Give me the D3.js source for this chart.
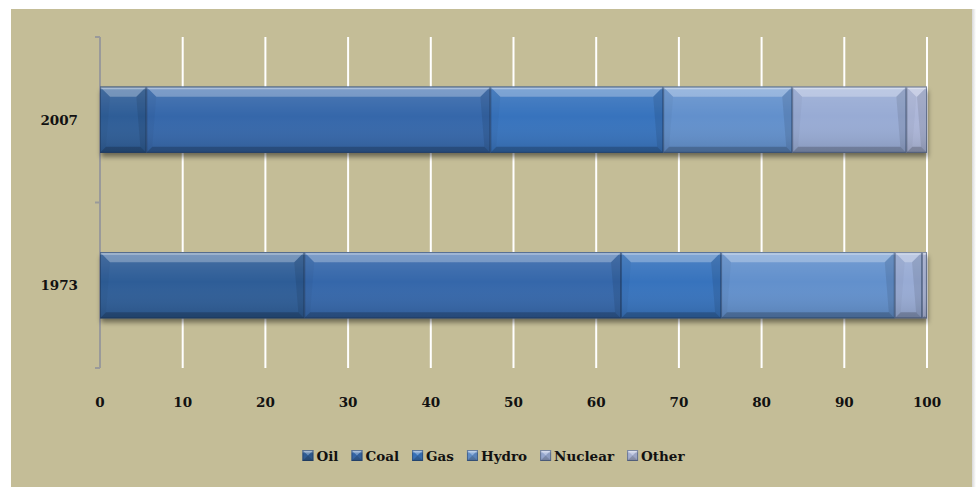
<!DOCTYPE html>
<html><head><meta charset="utf-8">
<script src="https://cdn.jsdelivr.net/npm/d3@7"></script>
<style>html,body{margin:0;padding:0;background:#fff;}svg{display:block;}</style>
</head><body>
<svg id="c" width="976" height="487"></svg>
<script>
const years = ["2007", "1973"];
const sources = ["Oil", "Coal", "Gas", "Hydro", "Nuclear", "Other"];
const values2007 = [5.6, 41.6, 20.9, 15.6, 13.8, 2.5];
const values1973 = [24.7, 38.3, 12.1, 21.0, 3.3, 0.6];
const xTicks = [0, 10, 20, 30, 40, 50, 60, 70, 80, 90, 100];
const colors = ["#2E5D97", "#3567AA", "#3773BD", "#6290CC", "#98ABD4", "#ACB6D8"];

const seriesByYear = {"2007": values2007, "1973": values1973};
const svg = d3.select("#c");
const font = "'DejaVu Serif', serif";
const fs = 13.5;

const defs = svg.append("defs");
const edge = defs.append("linearGradient").attr("id","edge").attr("x1","0").attr("x2","1");
edge.append("stop").attr("offset","0").attr("stop-color","#d8d8d8");
edge.append("stop").attr("offset","1").attr("stop-color","#ffffff");
svg.append("rect").attr("x",11).attr("y",9).attr("width",961).attr("height",478).attr("fill","#C4BD97");
svg.append("rect").attr("x",972).attr("y",9).attr("width",4).attr("height",478).attr("fill","url(#edge)");

const sh = defs.append("filter").attr("id","shadow").attr("x","-5%").attr("y","-30%").attr("width","110%").attr("height","170%");
sh.append("feDropShadow").attr("dx",1).attr("dy",4).attr("stdDeviation",2.5).attr("flood-color","#000").attr("flood-opacity",0.45);

const grad = defs.append("linearGradient").attr("id","shade").attr("x1","0").attr("x2","0").attr("y1","0").attr("y2","1");
grad.append("stop").attr("offset","0").attr("stop-color","#fff").attr("stop-opacity",0.12);
grad.append("stop").attr("offset","0.45").attr("stop-color","#fff").attr("stop-opacity",0.0);
grad.append("stop").attr("offset","1").attr("stop-color","#000").attr("stop-opacity",0.12);

const x = d3.scaleLinear().domain([0, 100]).range([100, 927]);
const y = d3.scaleBand().domain(years).range([37, 368]).paddingInner(0.6).paddingOuter(0.3);
const yFull = d3.scaleBand().domain(years).range([37, 368]);

svg.append("g").selectAll("line").data(xTicks.filter(d => d > 0)).join("line")
  .attr("x1", d => x(d)).attr("x2", d => x(d)).attr("y1", 37).attr("y2", 368)
  .attr("stroke", "#fff").attr("stroke-width", 2);

const ax = svg.append("g");
ax.append("line").attr("x1", x(0)).attr("x2", x(0)).attr("y1", 37).attr("y2", 368)
  .attr("stroke", "#9a9a9a").attr("stroke-width", 2);
const tickYs = [yFull.range()[0], ...years.map(d => yFull(d) + yFull.bandwidth())];
ax.selectAll("line.t").data(tickYs).join("line").attr("class","t")
  .attr("x1", x(0) - 5).attr("x2", x(0)).attr("y1", d => d).attr("y2", d => d)
  .attr("stroke", "#9a9a9a").attr("stroke-width", 2);

svg.append("g").selectAll("text").data(xTicks).join("text")
  .attr("x", d => x(d)).attr("y", 407).attr("text-anchor", "middle")
  .attr("font-family", font).attr("font-weight", "bold").attr("font-size", fs).attr("fill", "#111")
  .text(d => d);

svg.append("g").selectAll("text").data(years).join("text")
  .attr("x", 78).attr("y", d => y(d) + y.bandwidth() / 2 + 5).attr("text-anchor", "end")
  .attr("font-family", font).attr("font-weight", "bold").attr("font-size", fs).attr("fill", "#111")
  .text(d => d);

const rows = years.map(yr => {
  let acc = 0;
  return seriesByYear[yr].map((v, i) => { const s = {year: yr, i, x0: acc, x1: acc + v}; acc += v; return s; });
});

svg.append("g").selectAll("rect").data(rows).join("rect")
  .attr("x", r => x(r[0].x0)).attr("y", r => y(r[0].year))
  .attr("width", r => x(r[r.length-1].x1) - x(r[0].x0)).attr("height", y.bandwidth())
  .attr("fill", "#555").attr("filter", "url(#shadow)");

function drawSeg(g, x0, x1, y0, h, color) {
  const y1 = y0 + h;
  const w = x1 - x0;
  const b = Math.min(10, w / 2), bb = Math.min(6, w / 2);
  g.append("rect").attr("x", x0).attr("y", y0).attr("width", w).attr("height", h).attr("fill", color);
  g.append("rect").attr("x", x0).attr("y", y0).attr("width", w).attr("height", h).attr("fill", "url(#shade)");
  const poly = (pts, fill, op) => g.append("polygon").attr("points", pts.map(p => p.join(",")).join(" "))
    .attr("fill", fill).attr("fill-opacity", op);
  poly([[x0,y0],[x1,y0],[x1-b,y0+b],[x0+b,y0+b]], "#fff", 0.28);
  poly([[x0,y1],[x1,y1],[x1-bb,y1-bb],[x0+bb,y1-bb]], "#000", 0.2);
  poly([[x0,y0],[x0+b,y0+b],[x0+bb,y1-bb],[x0,y1]], "#000", 0.03);
  poly([[x1,y0],[x1-b,y0+b],[x1-bb,y1-bb],[x1,y1]], "#000", 0.09);
  g.append("line").attr("x1", x0).attr("x2", x1).attr("y1", y0 + 1.5).attr("y2", y0 + 1.5)
    .attr("stroke", "#fff").attr("stroke-opacity", 0.35).attr("stroke-width", 2);
  g.append("rect").attr("x", x0 + 0.5).attr("y", y0 + 0.5).attr("width", Math.max(0, w - 1)).attr("height", h - 1)
    .attr("fill", "none").attr("stroke", "#1d3050").attr("stroke-opacity", 0.45).attr("stroke-width", 1);
}

const bars = svg.append("g");
rows.forEach(r => r.forEach(s => {
  drawSeg(bars.append("g"), x(s.x0), x(s.x1), y(s.year), y.bandwidth(), colors[s.i]);
}));

const lg = svg.append("g");
const tmp = lg.selectAll("text").data(sources).join("text")
  .attr("font-family", font).attr("font-weight", "bold").attr("font-size", fs).attr("fill", "#111")
  .text(d => d);
const widths = tmp.nodes().map(n => n.getComputedTextLength());
const sq = 11, g1 = 3, g2 = 13;
const total = d3.sum(widths) + sources.length * (sq + g1) + (sources.length - 1) * g2;
let cx = 493.5 - total / 2;
const starts = widths.map(w => { const s = cx; cx += sq + g1 + w + g2; return s; });
tmp.attr("x", (d, i) => starts[i] + sq + g1).attr("y", 461);
sources.forEach((s, i) => {
  drawSeg(lg.append("g"), starts[i], starts[i] + sq, 450, sq, colors[i]);
});
</script>
</body></html>
